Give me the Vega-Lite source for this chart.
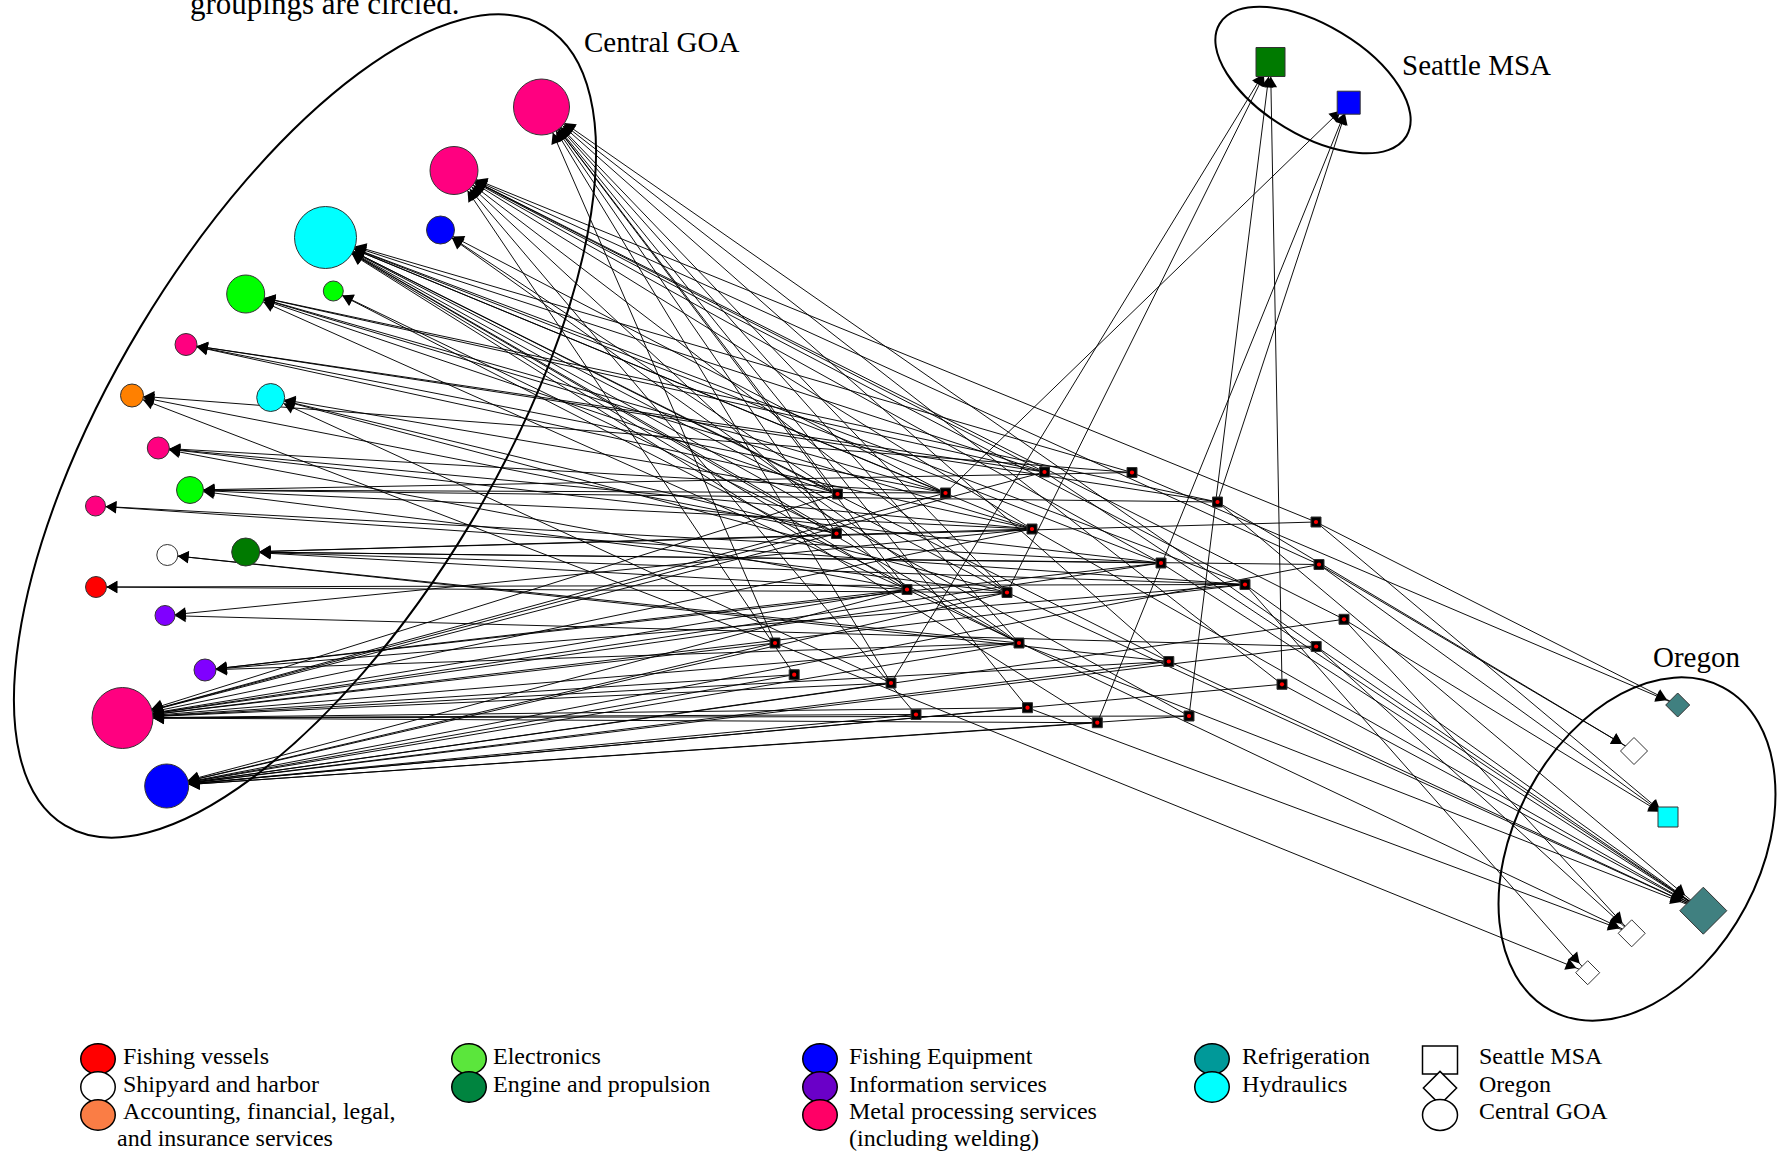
{
  "$schema": "https://vega.github.io/schema/vega-lite/v6.json",
  "width": 1784,
  "height": 1155,
  "padding": 0,
  "autosize": {"type": "none"},
  "background": "white",
  "config": {"view": {"stroke": null}, "axis": {"disable": true}},
  "datasets": {
    "nodes": [
      {"id": "N1", "group": "Central GOA", "cat": "Metal processing", "x": 541.5, "y": 107, "d": 56},
      {"id": "N2", "group": "Central GOA", "cat": "Metal processing", "x": 454, "y": 170.5, "d": 48},
      {"id": "N3", "group": "Central GOA", "cat": "Hydraulics", "x": 325.5, "y": 237.5, "d": 62},
      {"id": "N4", "group": "Central GOA", "cat": "Fishing Equipment", "x": 440.5, "y": 230, "d": 28},
      {"id": "N5", "group": "Central GOA", "cat": "Electronics", "x": 245.7, "y": 294, "d": 38},
      {"id": "N6", "group": "Central GOA", "cat": "Electronics", "x": 333.3, "y": 291, "d": 20},
      {"id": "N7", "group": "Central GOA", "cat": "Metal processing", "x": 186, "y": 344.5, "d": 22},
      {"id": "N8", "group": "Central GOA", "cat": "Accounting", "x": 132, "y": 395.5, "d": 23},
      {"id": "N9", "group": "Central GOA", "cat": "Hydraulics", "x": 270.7, "y": 397.5, "d": 28},
      {"id": "N10", "group": "Central GOA", "cat": "Metal processing", "x": 158.3, "y": 448, "d": 22},
      {"id": "N11", "group": "Central GOA", "cat": "Electronics", "x": 190, "y": 490, "d": 27},
      {"id": "N12", "group": "Central GOA", "cat": "Metal processing", "x": 95.5, "y": 506, "d": 20},
      {"id": "N13", "group": "Central GOA", "cat": "Shipyard and harbor", "x": 167.3, "y": 555, "d": 21},
      {"id": "N14", "group": "Central GOA", "cat": "Engine and propulsion", "x": 245.7, "y": 552, "d": 28},
      {"id": "N15", "group": "Central GOA", "cat": "Fishing vessels", "x": 96, "y": 587, "d": 21},
      {"id": "N16", "group": "Central GOA", "cat": "Information services", "x": 165, "y": 615.5, "d": 20},
      {"id": "N17", "group": "Central GOA", "cat": "Information services", "x": 205, "y": 670, "d": 22},
      {"id": "N18", "group": "Central GOA", "cat": "Metal processing", "x": 122.5, "y": 718, "d": 61},
      {"id": "N19", "group": "Central GOA", "cat": "Fishing Equipment", "x": 166.7, "y": 786, "d": 44},
      {"id": "SG", "group": "Seattle MSA", "cat": "Engine and propulsion", "x": 1270.5, "y": 62, "d": 29},
      {"id": "SB", "group": "Seattle MSA", "cat": "Fishing Equipment", "x": 1348.7, "y": 102.7, "d": 23},
      {"id": "O1", "group": "Oregon", "cat": "Refrigeration", "x": 1677.7, "y": 705, "d": 24},
      {"id": "O2", "group": "Oregon", "cat": "Shipyard and harbor", "x": 1634, "y": 751, "d": 27},
      {"id": "O3", "group": "Seattle MSA", "cat": "Hydraulics", "x": 1668, "y": 817, "d": 20},
      {"id": "O4", "group": "Oregon", "cat": "Refrigeration", "x": 1703.3, "y": 910.7, "d": 47},
      {"id": "O5", "group": "Oregon", "cat": "Shipyard and harbor", "x": 1631.7, "y": 933.3, "d": 27},
      {"id": "O6", "group": "Oregon", "cat": "Shipyard and harbor", "x": 1587.7, "y": 972.7, "d": 24},
      {"id": "H1", "group": "Hub", "cat": "Hub", "x": 1044.5, "y": 472, "d": 10},
      {"id": "H2", "group": "Hub", "cat": "Hub", "x": 1132, "y": 472.5, "d": 10},
      {"id": "H3", "group": "Hub", "cat": "Hub", "x": 837.5, "y": 494, "d": 10},
      {"id": "H4", "group": "Hub", "cat": "Hub", "x": 945.5, "y": 493, "d": 10},
      {"id": "H5", "group": "Hub", "cat": "Hub", "x": 1217.5, "y": 502, "d": 10},
      {"id": "H6", "group": "Hub", "cat": "Hub", "x": 1032, "y": 529, "d": 10},
      {"id": "H7", "group": "Hub", "cat": "Hub", "x": 1316, "y": 522, "d": 10},
      {"id": "H8", "group": "Hub", "cat": "Hub", "x": 836.5, "y": 533.5, "d": 10},
      {"id": "H9", "group": "Hub", "cat": "Hub", "x": 1161, "y": 563, "d": 10},
      {"id": "H10", "group": "Hub", "cat": "Hub", "x": 1319, "y": 564.5, "d": 10},
      {"id": "H11", "group": "Hub", "cat": "Hub", "x": 1007, "y": 592.5, "d": 10},
      {"id": "H12", "group": "Hub", "cat": "Hub", "x": 907, "y": 589.5, "d": 10},
      {"id": "H13", "group": "Hub", "cat": "Hub", "x": 1245, "y": 584.5, "d": 10},
      {"id": "H14", "group": "Hub", "cat": "Hub", "x": 1344, "y": 619.3, "d": 10},
      {"id": "H15", "group": "Hub", "cat": "Hub", "x": 775, "y": 643, "d": 10},
      {"id": "H16", "group": "Hub", "cat": "Hub", "x": 1019, "y": 643, "d": 10},
      {"id": "H17", "group": "Hub", "cat": "Hub", "x": 1316.2, "y": 646.5, "d": 10},
      {"id": "H18", "group": "Hub", "cat": "Hub", "x": 1168.8, "y": 661.5, "d": 10},
      {"id": "H19", "group": "Hub", "cat": "Hub", "x": 794.2, "y": 674.7, "d": 10},
      {"id": "H20", "group": "Hub", "cat": "Hub", "x": 891, "y": 683, "d": 10},
      {"id": "H21", "group": "Hub", "cat": "Hub", "x": 1282, "y": 684.3, "d": 10},
      {"id": "H22", "group": "Hub", "cat": "Hub", "x": 916, "y": 714.5, "d": 10},
      {"id": "H23", "group": "Hub", "cat": "Hub", "x": 1027.5, "y": 707.7, "d": 10},
      {"id": "H24", "group": "Hub", "cat": "Hub", "x": 1097.3, "y": 722.7, "d": 10},
      {"id": "H25", "group": "Hub", "cat": "Hub", "x": 1189, "y": 716, "d": 10}
    ],
    "edges": [
      {"s": "H3", "t": "N1"}, {"s": "H8", "t": "N1"}, {"s": "H12", "t": "N1"}, {"s": "H11", "t": "N1"}, {"s": "H16", "t": "N1"}, {"s": "H20", "t": "N1"}, {"s": "H18", "t": "N1"}, {"s": "H21", "t": "N1"}, {"s": "H17", "t": "N1"}, {"s": "H15", "t": "N1"}, {"s": "H23", "t": "N1"},
      {"s": "H1", "t": "N2"}, {"s": "H6", "t": "N2"}, {"s": "H11", "t": "N2"}, {"s": "H9", "t": "N2"}, {"s": "H13", "t": "N2"}, {"s": "H14", "t": "N2"}, {"s": "H19", "t": "N2"}, {"s": "H22", "t": "N2"}, {"s": "H12", "t": "N2"}, {"s": "H7", "t": "N2"}, {"s": "H10", "t": "N2"},
      {"s": "H3", "t": "N3"}, {"s": "H8", "t": "N3"}, {"s": "H4", "t": "N3"}, {"s": "H12", "t": "N3"}, {"s": "H11", "t": "N3"}, {"s": "H16", "t": "N3"}, {"s": "H6", "t": "N3"}, {"s": "H9", "t": "N3"}, {"s": "H18", "t": "N3"}, {"s": "H24", "t": "N3"}, {"s": "H25", "t": "N3"}, {"s": "H13", "t": "N3"}, {"s": "H2", "t": "N3"}, {"s": "H1", "t": "N3"},
      {"s": "H4", "t": "N4"}, {"s": "H16", "t": "N4"}, {"s": "H3", "t": "N4"},
      {"s": "H3", "t": "N5"}, {"s": "H4", "t": "N5"}, {"s": "H1", "t": "N5"}, {"s": "H6", "t": "N5"}, {"s": "H5", "t": "N5"}, {"s": "H12", "t": "N5"},
      {"s": "H8", "t": "N6"}, {"s": "H16", "t": "N6"},
      {"s": "H1", "t": "N7"}, {"s": "H5", "t": "N7"}, {"s": "H6", "t": "N7"}, {"s": "H4", "t": "N7"},
      {"s": "H2", "t": "N8"}, {"s": "H15", "t": "N8"}, {"s": "H8", "t": "N8"},
      {"s": "H3", "t": "N9"}, {"s": "H8", "t": "N9"}, {"s": "H11", "t": "N9"}, {"s": "H20", "t": "N9"},
      {"s": "H4", "t": "N10"}, {"s": "H6", "t": "N10"}, {"s": "H9", "t": "N10"}, {"s": "H12", "t": "N10"},
      {"s": "H4", "t": "N11"}, {"s": "H5", "t": "N11"}, {"s": "H2", "t": "N11"}, {"s": "H6", "t": "N11"}, {"s": "H11", "t": "N11"},
      {"s": "H9", "t": "N12"}, {"s": "H13", "t": "N12"},
      {"s": "H16", "t": "N13"}, {"s": "H18", "t": "N13"},
      {"s": "H6", "t": "N14"}, {"s": "H9", "t": "N14"}, {"s": "H10", "t": "N14"}, {"s": "H12", "t": "N14"}, {"s": "H13", "t": "N14"}, {"s": "H7", "t": "N14"},
      {"s": "H11", "t": "N15"}, {"s": "H13", "t": "N15"},
      {"s": "H6", "t": "N16"}, {"s": "H17", "t": "N16"},
      {"s": "H12", "t": "N17"}, {"s": "H9", "t": "N17"}, {"s": "H16", "t": "N17"}, {"s": "H13", "t": "N17"},
      {"s": "H1", "t": "N18"}, {"s": "H3", "t": "N18"}, {"s": "H4", "t": "N18"}, {"s": "H6", "t": "N18"}, {"s": "H8", "t": "N18"}, {"s": "H9", "t": "N18"}, {"s": "H11", "t": "N18"}, {"s": "H12", "t": "N18"}, {"s": "H13", "t": "N18"}, {"s": "H15", "t": "N18"}, {"s": "H16", "t": "N18"}, {"s": "H18", "t": "N18"}, {"s": "H19", "t": "N18"}, {"s": "H20", "t": "N18"}, {"s": "H22", "t": "N18"}, {"s": "H23", "t": "N18"}, {"s": "H24", "t": "N18"}, {"s": "H25", "t": "N18"},
      {"s": "H15", "t": "N19"}, {"s": "H16", "t": "N19"}, {"s": "H18", "t": "N19"}, {"s": "H19", "t": "N19"}, {"s": "H20", "t": "N19"}, {"s": "H22", "t": "N19"}, {"s": "H23", "t": "N19"}, {"s": "H24", "t": "N19"}, {"s": "H25", "t": "N19"}, {"s": "H21", "t": "N19"}, {"s": "H17", "t": "N19"}, {"s": "H14", "t": "N19"}, {"s": "H11", "t": "N19"}, {"s": "H12", "t": "N19"}, {"s": "H10", "t": "N19"},
      {"s": "H11", "t": "SG"}, {"s": "H20", "t": "SG"}, {"s": "H21", "t": "SG"}, {"s": "H25", "t": "SG"},
      {"s": "H5", "t": "SB"}, {"s": "H4", "t": "SB"}, {"s": "H24", "t": "SB"},
      {"s": "H2", "t": "O1"}, {"s": "H7", "t": "O1"},
      {"s": "H10", "t": "O2"}, {"s": "H5", "t": "O2"},
      {"s": "H7", "t": "O3"}, {"s": "H10", "t": "O3"}, {"s": "H14", "t": "O3"},
      {"s": "H1", "t": "O4"}, {"s": "H5", "t": "O4"}, {"s": "H9", "t": "O4"}, {"s": "H13", "t": "O4"}, {"s": "H16", "t": "O4"}, {"s": "H18", "t": "O4"}, {"s": "H21", "t": "O4"}, {"s": "H17", "t": "O4"}, {"s": "H11", "t": "O4"}, {"s": "H6", "t": "O4"},
      {"s": "H12", "t": "O5"}, {"s": "H23", "t": "O5"}, {"s": "H14", "t": "O5"}, {"s": "H17", "t": "O5"},
      {"s": "H15", "t": "O6"}, {"s": "H13", "t": "O6"}
    ],
    "labels": [
      {"text": "Central GOA", "x": 584, "y": 52},
      {"text": "Seattle MSA", "x": 1402, "y": 75},
      {"text": "Oregon", "x": 1653, "y": 667}
    ],
    "legendSwatches": [
      {"label": "Fishing vessels", "x": 98, "y": 1059},
      {"label": "Shipyard and harbor", "x": 98, "y": 1087},
      {"label": "Accounting, financial, legal, and insurance services", "x": 98, "y": 1115},
      {"label": "Electronics", "x": 469, "y": 1059},
      {"label": "Engine and propulsion", "x": 469, "y": 1087},
      {"label": "Fishing Equipment", "x": 820, "y": 1059},
      {"label": "Information services", "x": 820, "y": 1087},
      {"label": "Metal processing services (including welding)", "x": 820, "y": 1115},
      {"label": "Refrigeration", "x": 1212, "y": 1059},
      {"label": "Hydraulics", "x": 1212, "y": 1087}
    ],
    "legendShapes": [
      {"label": "Seattle MSA", "x": 1440, "y": 1060},
      {"label": "Oregon", "x": 1440, "y": 1088},
      {"label": "Central GOA", "x": 1440, "y": 1115}
    ],
    "legendText": [
      {"text": "Fishing vessels", "x": 123, "y": 1064},
      {"text": "Shipyard and harbor", "x": 123, "y": 1091.5},
      {"text": "Accounting, financial, legal,", "x": 123, "y": 1119},
      {"text": "and insurance services", "x": 117, "y": 1146},
      {"text": "Electronics", "x": 493, "y": 1064},
      {"text": "Engine and propulsion", "x": 493, "y": 1091.5},
      {"text": "Fishing Equipment", "x": 849, "y": 1064},
      {"text": "Information services", "x": 849, "y": 1091.5},
      {"text": "Metal processing services", "x": 849, "y": 1119},
      {"text": "(including welding)", "x": 849, "y": 1146},
      {"text": "Refrigeration", "x": 1242, "y": 1064},
      {"text": "Hydraulics", "x": 1242, "y": 1091.5},
      {"text": "Seattle MSA", "x": 1479, "y": 1064},
      {"text": "Oregon", "x": 1479, "y": 1091.5},
      {"text": "Central GOA", "x": 1479, "y": 1119}
    ]
  },
  "layer": [
    {
      "data": {"values": [{"region": "Central GOA", "x": 305, "y": 426}]},
      "mark": {"type": "point", "filled": false, "stroke": "black", "strokeWidth": 2, "opacity": 1,
        "shape": "M -1 0 C -1 -0.2276 -0.5523 -0.412 0 -0.412 C 0.5523 -0.412 1 -0.2276 1 0 C 1 0.2276 0.5523 0.412 0 0.412 C -0.5523 0.412 -1 0.2276 -1 0 Z",
        "size": 868624, "angle": 301},
      "encoding": {
        "x": {"field": "x", "type": "quantitative", "scale": {"domain": [0, 1784], "nice": false, "zero": false}, "axis": null},
        "y": {"field": "y", "type": "quantitative", "scale": {"domain": [0, 1155], "nice": false, "zero": false, "reverse": true}, "axis": null}
      }
    },
    {
      "data": {"values": [{"region": "Seattle MSA", "x": 1313, "y": 80}]},
      "mark": {"type": "point", "filled": false, "stroke": "black", "strokeWidth": 2, "opacity": 1,
        "shape": "M -1 0 C -1 -0.2787 -0.5523 -0.5046 0 -0.5046 C 0.5523 -0.5046 1 -0.2787 1 0 C 1 0.2787 0.5523 0.5046 0 0.5046 C -0.5523 0.5046 -1 0.2787 -1 0 Z",
        "size": 47524, "angle": 31},
      "encoding": {
        "x": {"field": "x", "type": "quantitative", "scale": {"domain": [0, 1784], "nice": false, "zero": false}, "axis": null},
        "y": {"field": "y", "type": "quantitative", "scale": {"domain": [0, 1155], "nice": false, "zero": false, "reverse": true}, "axis": null}
      }
    },
    {
      "data": {"values": [{"region": "Oregon", "x": 1637, "y": 849}]},
      "mark": {"type": "point", "filled": false, "stroke": "black", "strokeWidth": 2, "opacity": 1,
        "shape": "M -1 0 C -1 -0.3712 -0.5523 -0.672 0 -0.672 C 0.5523 -0.672 1 -0.3712 1 0 C 1 0.3712 0.5523 0.672 0 0.672 C -0.5523 0.672 -1 0.3712 -1 0 Z",
        "size": 133956, "angle": 298},
      "encoding": {
        "x": {"field": "x", "type": "quantitative", "scale": {"domain": [0, 1784], "nice": false, "zero": false}, "axis": null},
        "y": {"field": "y", "type": "quantitative", "scale": {"domain": [0, 1155], "nice": false, "zero": false, "reverse": true}, "axis": null}
      }
    },
    {
      "data": {"name": "edges"},
      "transform": [
        {"lookup": "s", "from": {"data": {"name": "nodes"}, "key": "id", "fields": ["x", "y"]}, "as": ["sx", "sy"]},
        {"lookup": "t", "from": {"data": {"name": "nodes"}, "key": "id", "fields": ["x", "y", "d"]}, "as": ["tx", "ty", "td"]}
      ],
      "mark": {"type": "rule", "stroke": "black", "strokeWidth": 1, "opacity": 0.95},
      "encoding": {
        "x": {"field": "sx", "type": "quantitative", "scale": {"domain": [0, 1784], "nice": false, "zero": false}, "axis": null},
        "y": {"field": "sy", "type": "quantitative", "scale": {"domain": [0, 1155], "nice": false, "zero": false, "reverse": true}, "axis": null},
        "x2": {"field": "tx"},
        "y2": {"field": "ty"}
      }
    },
    {
      "data": {"name": "edges"},
      "transform": [
        {"lookup": "s", "from": {"data": {"name": "nodes"}, "key": "id", "fields": ["x", "y"]}, "as": ["sx", "sy"]},
        {"lookup": "t", "from": {"data": {"name": "nodes"}, "key": "id", "fields": ["x", "y", "d"]}, "as": ["tx", "ty", "td"]},
        {"calculate": "datum.tx - datum.sx", "as": "dx"},
        {"calculate": "datum.ty - datum.sy", "as": "dy"},
        {"calculate": "sqrt(datum.dx * datum.dx + datum.dy * datum.dy)", "as": "len"},
        {"calculate": "datum.tx - datum.dx / datum.len * (datum.td / 2 + 5.5)", "as": "ax"},
        {"calculate": "datum.ty - datum.dy / datum.len * (datum.td / 2 + 5.5)", "as": "ay"},
        {"calculate": "(atan2(datum.dx, -datum.dy) * 180 / PI + 360) % 360", "as": "ang"}
      ],
      "mark": {"type": "point", "shape": "triangle-up", "filled": true, "color": "black", "size": 150, "opacity": 1},
      "encoding": {
        "x": {"field": "ax", "type": "quantitative", "scale": {"domain": [0, 1784], "nice": false, "zero": false}, "axis": null},
        "y": {"field": "ay", "type": "quantitative", "scale": {"domain": [0, 1155], "nice": false, "zero": false, "reverse": true}, "axis": null},
        "angle": {"field": "ang", "type": "quantitative", "scale": null}
      }
    },
    {
      "data": {"name": "nodes"},
      "mark": {"type": "point", "filled": true, "stroke": "#333333", "strokeWidth": 1, "opacity": 1},
      "encoding": {
        "x": {"field": "x", "type": "quantitative", "scale": {"domain": [0, 1784], "nice": false, "zero": false}, "axis": null},
        "y": {"field": "y", "type": "quantitative", "scale": {"domain": [0, 1155], "nice": false, "zero": false, "reverse": true}, "axis": null},
        "size": {"field": "d", "type": "quantitative", "scale": {"type": "pow", "exponent": 2, "domain": [0, 100], "range": [0, 10000]}, "legend": null},
        "shape": {"field": "group", "type": "nominal", "scale": {"domain": ["Central GOA", "Seattle MSA", "Oregon", "Hub"], "range": ["circle", "square", "diamond", "square"]}, "legend": null},
        "color": {"field": "cat", "type": "nominal", "scale": {
          "domain": ["Fishing vessels", "Shipyard and harbor", "Accounting", "Electronics", "Engine and propulsion", "Fishing Equipment", "Information services", "Metal processing", "Refrigeration", "Hydraulics", "Hub"],
          "range": ["#FF0000", "#FFFFFF", "#FF8000", "#00FF00", "#007A00", "#0000FF", "#8000FF", "#FF0080", "#408080", "#00FFFF", "#000000"]}, "legend": null}
      }
    },
    {
      "data": {"name": "nodes"},
      "transform": [{"filter": "datum.group == 'Hub'"}],
      "mark": {"type": "point", "shape": "circle", "filled": true, "color": "#FF0000", "size": 18, "opacity": 1},
      "encoding": {
        "x": {"field": "x", "type": "quantitative", "scale": {"domain": [0, 1784], "nice": false, "zero": false}, "axis": null},
        "y": {"field": "y", "type": "quantitative", "scale": {"domain": [0, 1155], "nice": false, "zero": false, "reverse": true}, "axis": null}
      }
    },
    {
      "data": {"name": "labels"},
      "mark": {"type": "text", "font": "Liberation Serif", "fontSize": 29, "align": "left", "baseline": "alphabetic", "color": "black"},
      "encoding": {
        "x": {"field": "x", "type": "quantitative", "scale": {"domain": [0, 1784], "nice": false, "zero": false}, "axis": null},
        "y": {"field": "y", "type": "quantitative", "scale": {"domain": [0, 1155], "nice": false, "zero": false, "reverse": true}, "axis": null},
        "text": {"field": "text"}
      }
    },
    {
      "data": {"values": [{"text": "groupings are circled.", "x": 190, "y": 14}]},
      "mark": {"type": "text", "font": "Liberation Serif", "fontSize": 31, "align": "left", "baseline": "alphabetic", "color": "black"},
      "encoding": {
        "x": {"field": "x", "type": "quantitative", "scale": {"domain": [0, 1784], "nice": false, "zero": false}, "axis": null},
        "y": {"field": "y", "type": "quantitative", "scale": {"domain": [0, 1155], "nice": false, "zero": false, "reverse": true}, "axis": null},
        "text": {"field": "text"}
      }
    },
    {
      "data": {"name": "legendSwatches"},
      "mark": {"type": "point", "filled": true, "stroke": "black", "strokeWidth": 1.5, "opacity": 1, "size": 1190,
        "shape": "M -1 0 C -1 -0.486 -0.5523 -0.88 0 -0.88 C 0.5523 -0.88 1 -0.486 1 0 C 1 0.486 0.5523 0.88 0 0.88 C -0.5523 0.88 -1 0.486 -1 0 Z"},
      "encoding": {
        "x": {"field": "x", "type": "quantitative", "scale": {"domain": [0, 1784], "nice": false, "zero": false}, "axis": null},
        "y": {"field": "y", "type": "quantitative", "scale": {"domain": [0, 1155], "nice": false, "zero": false, "reverse": true}, "axis": null},
        "color": {"field": "label", "type": "nominal", "legend": null, "scale": {
          "domain": ["Fishing vessels", "Shipyard and harbor", "Accounting, financial, legal, and insurance services", "Electronics", "Engine and propulsion", "Fishing Equipment", "Information services", "Metal processing services (including welding)", "Refrigeration", "Hydraulics"],
          "range": ["#FF0000", "#FFFFFF", "#FA7D45", "#5BE63C", "#00843F", "#0000FF", "#6A00C8", "#FF0066", "#009999", "#00FFFF"]}}
      }
    },
    {
      "data": {"name": "legendShapes"},
      "mark": {"type": "point", "filled": true, "fill": "white", "stroke": "black", "strokeWidth": 1.5, "opacity": 1},
      "encoding": {
        "x": {"field": "x", "type": "quantitative", "scale": {"domain": [0, 1784], "nice": false, "zero": false}, "axis": null},
        "y": {"field": "y", "type": "quantitative", "scale": {"domain": [0, 1155], "nice": false, "zero": false, "reverse": true}, "axis": null},
        "shape": {"field": "label", "type": "nominal", "legend": null, "scale": {
          "domain": ["Seattle MSA", "Oregon", "Central GOA"],
          "range": ["M -1 -0.8 L 1 -0.8 L 1 0.8 L -1 0.8 Z", "M 0 -0.95 L 0.95 0 L 0 0.95 L -0.95 0 Z", "M -1 0 C -1 -0.486 -0.5523 -0.88 0 -0.88 C 0.5523 -0.88 1 -0.486 1 0 C 1 0.486 0.5523 0.88 0 0.88 C -0.5523 0.88 -1 0.486 -1 0 Z"]}},
        "size": {"value": 1225}
      }
    },
    {
      "data": {"name": "legendText"},
      "mark": {"type": "text", "font": "Liberation Serif", "fontSize": 24, "align": "left", "baseline": "alphabetic", "color": "black"},
      "encoding": {
        "x": {"field": "x", "type": "quantitative", "scale": {"domain": [0, 1784], "nice": false, "zero": false}, "axis": null},
        "y": {"field": "y", "type": "quantitative", "scale": {"domain": [0, 1155], "nice": false, "zero": false, "reverse": true}, "axis": null},
        "text": {"field": "text"}
      }
    }
  ],
  "resolve": {"scale": {"color": "independent", "shape": "independent", "size": "independent"}}
}
